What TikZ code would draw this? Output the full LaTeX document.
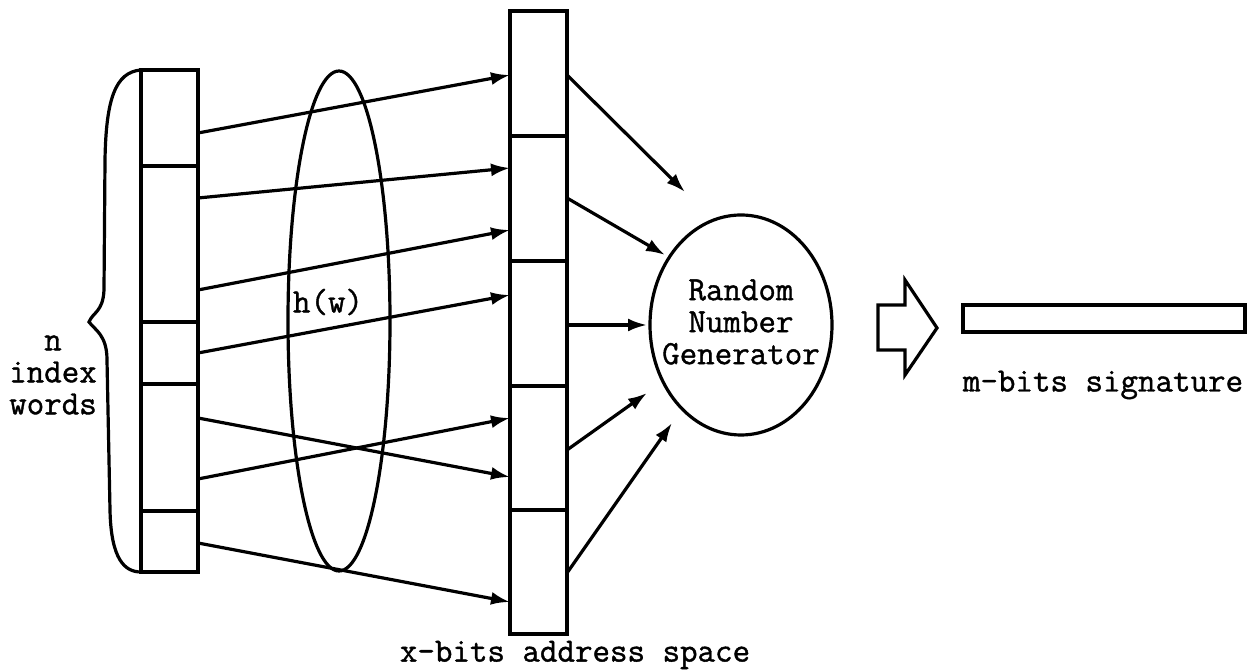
\documentclass[tikz,border=0pt]{standalone}
\usepackage{fontspec}
\newfontfamily\twfont{Latin Modern Mono}[FakeBold=1.2]
\usetikzlibrary{arrows.meta,shapes.geometric}
\begin{document}
\begin{tikzpicture}[x=0.5pt,y=-0.5pt,
  lbl/.style={font=\twfont\fontsize{17}{16}\selectfont, inner sep=0pt, align=center},
  cell/.style={draw, line width=1.6pt, line join=miter},
  arr/.style={-{Latex[length=9.5pt,width=6.5pt]}, line width=1.6pt},
  ln/.style={line width=1.6pt}]
\useasboundingbox (0,0) rectangle (1260,672);
% left column
\draw[cell] (141,70) rectangle (198,572);
\foreach \y in {166,322,384,511} \draw[ln] (141,\y) -- (198,\y);
% brace
\draw[ln] (141,70) .. controls (115,72) and (106,100) .. (105,160) -- (104,290)
  .. controls (103,312) and (93,312) .. (89,322)
  .. controls (95,330) and (107,335) .. (107,360) -- (110,510)
  .. controls (111,560) and (125,572) .. (141,572);
\node[lbl] (nwords) at (53,375) {n\\index\\words};
% hash ellipse
\draw[ln] (339,321) ellipse [x radius=51, y radius=250];
\node[lbl] (hw) at (328,302) {h(w)};
% middle column
\draw[cell] (510,11) rectangle (567,634);
\foreach \y in {136,261,386,510} \draw[ln] (510,\y) -- (567,\y);
% left arrow endpoints
\foreach \n/\y in {1/133,2/198,3/290,4/353,5/418,6/479,7/543} \coordinate (s\n) at (198,\y);
\foreach \n/\y in {1/75,2/168,3/230,4/295,5/477,6/418,7/602} \coordinate (t\n) at (510,\y);
\foreach \n in {1,...,7} \draw[arr] (s\n) -- (t\n);
% RNG
\node[draw, ellipse, line width=1.6pt, minimum width=91pt, minimum height=110pt, inner sep=0pt] (rng) at (741,325) {};
\node[lbl, align=center] (rngt) at (741,322) {Random\\Number\\Generator};
% right arrows
\coordinate (r1) at (567,75);  \coordinate (q1) at (685,192);
\coordinate (r2) at (567,198); \coordinate (q2) at (665,255);
\coordinate (r3) at (567,325); \coordinate (q3) at (647,325);
\coordinate (r4) at (567,450); \coordinate (q4) at (647,393);
\coordinate (r5) at (567,573); \coordinate (q5) at (672,423);
\foreach \n in {1,...,5} \draw[arr] (r\n) -- (q\n);
% hollow arrow
\draw[ln, line join=miter] (878,305) -- (905,305) -- (905,280) -- (937,328) -- (905,375) -- (905,350) -- (878,350) -- cycle;
% signature
\draw[cell] (963,305) rectangle (1245,332);
\node[lbl] (sig) at (1103,385) {m-bits signature};
\node[lbl] (xbits) at (575,655) {x-bits address space};
\end{tikzpicture}
\end{document}
